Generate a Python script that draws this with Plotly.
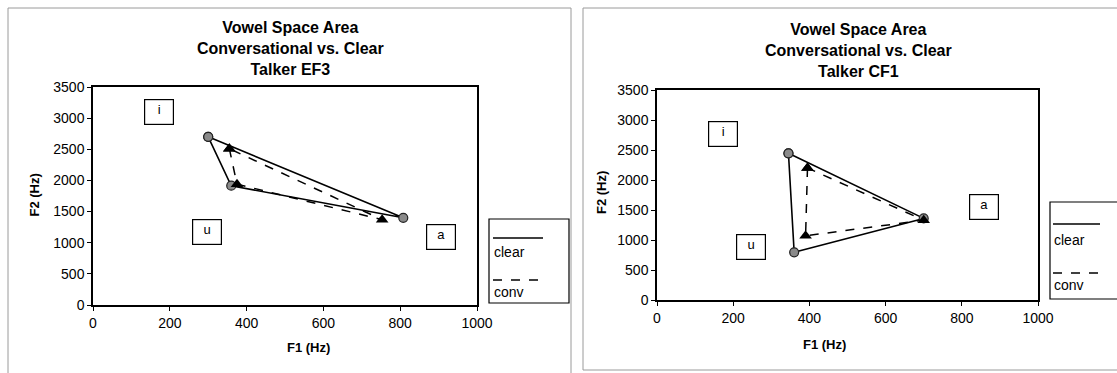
import plotly.graph_objects as go

W, H = 1117, 373

vowels = ["i", "u", "a"]
ef3_clear_f1 = [300, 360, 808]
ef3_clear_f2 = [2700, 1915, 1400]
ef3_conv_f1 = [355, 375, 753]
ef3_conv_f2 = [2510, 1940, 1370]
cf1_clear_f1 = [345, 360, 700]
cf1_clear_f2 = [2445, 795, 1360]
cf1_conv_f1 = [395, 390, 700]
cf1_conv_f2 = [2200, 1070, 1330]

ef3_label_f1 = [171, 298, 907]
ef3_label_f2 = [3105, 1173, 1092]
cf1_label_f1 = [172, 247, 858]
cf1_label_f2 = [2772, 889, 1556]

x_ticks = [0, 200, 400, 600, 800, 1000]
y_ticks = [0, 500, 1000, 1500, 2000, 2500, 3000, 3500]
titles = ["Vowel Space Area<br>Conversational vs. Clear<br>Talker EF3",
          "Vowel Space Area<br>Conversational vs. Clear<br>Talker CF1"]

FONT = "Liberation Sans, Arial, sans-serif"

def px(x):
    return x / W

def py(y):
    return 1 - y / H

fig = go.Figure()

def closed(a):
    return list(a) + [a[0]]

panels = [
    ("x", "y", ef3_clear_f1, ef3_clear_f2, ef3_conv_f1, ef3_conv_f2),
    ("x2", "y2", cf1_clear_f1, cf1_clear_f2, cf1_conv_f1, cf1_conv_f2),
]
for xa, ya, cx, cy, vx, vy in panels:
    fig.add_trace(go.Scatter(x=closed(cx), y=closed(cy), xaxis=xa, yaxis=ya, mode="lines+markers",
                             name="clear", showlegend=False,
                             line=dict(color="black", width=1.6),
                             marker=dict(symbol="circle", size=9, color="#8a8a8a",
                                         line=dict(color="#222", width=1.2))))
    fig.add_trace(go.Scatter(x=closed(vx), y=closed(vy), xaxis=xa, yaxis=ya, mode="lines+markers",
                             name="conv", showlegend=False,
                             line=dict(color="black", width=1.5, dash="dash"),
                             marker=dict(symbol="triangle-up", size=11, color="black")))

axis_common = dict(range=[0, 1000], tickvals=x_ticks, showgrid=False, zeroline=False,
                   showline=True, mirror=True, linecolor="black", linewidth=1.5,
                   ticks="outside", ticklen=4, tickcolor="black", automargin=False,
                   tickfont=dict(family=FONT, size=14, color="black"))
yaxis_common = dict(range=[0, 3500], tickvals=y_ticks, showgrid=False, zeroline=False,
                    showline=True, mirror=True, linecolor="black", linewidth=1.5,
                    ticks="outside", ticklen=4, tickcolor="black", automargin=False,
                    tickfont=dict(family=FONT, size=14, color="black"))

fig.update_layout(
    width=W, height=H, margin=dict(l=0, r=0, t=0, b=0, pad=0),
    paper_bgcolor="white", plot_bgcolor="white",
    xaxis=dict(domain=[px(93), px(477)], anchor="y", **axis_common),
    yaxis=dict(domain=[py(305), py(87)], anchor="x", **yaxis_common),
    xaxis2=dict(domain=[px(657), px(1038)], anchor="y2", **axis_common),
    yaxis2=dict(domain=[py(300), py(90)], anchor="x2", **yaxis_common),
)

shapes = []
annotations = []

# outer panel borders
shapes.append(dict(type="rect", xref="paper", yref="paper", x0=px(8), x1=px(571), y0=py(380), y1=py(8),
                   line=dict(color="#9a9a9a", width=1)))
shapes.append(dict(type="rect", xref="paper", yref="paper", x0=px(583), x1=px(1125), y0=py(370), y1=py(8),
                   line=dict(color="#9a9a9a", width=1)))

# titles
for t, cx, cy in [(titles[0], 290, 49), (titles[1], 858, 51)]:
    annotations.append(dict(text="<b>" + t + "</b>", xref="paper", yref="paper", x=px(cx), y=py(cy),
                            showarrow=False, xanchor="center", yanchor="middle",
                            font=dict(family=FONT, size=16, color="black")))

# axis titles
for tx, ty in [(285, 357), (848, 354)]:
    annotations.append(dict(text="<b>F1 (Hz)</b>", xref="paper", yref="paper", x=px(tx), y=py(ty),
                            showarrow=False, font=dict(family=FONT, size=13, color="black")))
for tx, ty in [(24, 195), (601, 193)]:
    annotations.append(dict(text="<b>F2 (Hz)</b>", xref="paper", yref="paper", x=px(tx), y=py(ty),
                            showarrow=False, textangle=-90, font=dict(family=FONT, size=13, color="black")))

# vowel label boxes
for xr, yr, lx, ly in [("x", "y", ef3_label_f1, ef3_label_f2), ("x2", "y2", cf1_label_f1, cf1_label_f2)]:
    for v, a, b in zip(vowels, lx, ly):
        annotations.append(dict(text=v, xref=xr, yref=yr, x=a, y=b, showarrow=False,
                                width=24, height=20, borderpad=2, borderwidth=1.2, bordercolor="black",
                                bgcolor="white", valign="top",
                                font=dict(family=FONT, size=13, color="black")))

# legends
for bx0, bx1, by0, by1, lx0, lx1, ys, yc, yd, yv in [
    (489, 569, 219, 303, 493, 543, 238, 252, 280, 292),
    (1050, 1125, 202, 299, 1053, 1100, 224, 240, 273, 285),
]:
    shapes.append(dict(type="rect", xref="paper", yref="paper", x0=px(bx0), x1=px(bx1), y0=py(by1), y1=py(by0),
                       line=dict(color="black", width=1.2), fillcolor="white"))
    shapes.append(dict(type="line", xref="paper", yref="paper", x0=px(lx0), x1=px(lx1), y0=py(ys), y1=py(ys),
                       line=dict(color="black", width=1.5)))
    shapes.append(dict(type="line", xref="paper", yref="paper", x0=px(lx0), x1=px(lx1 + 3), y0=py(yd), y1=py(yd),
                       line=dict(color="black", width=1.5, dash="dash")))
    annotations.append(dict(text="clear", xref="paper", yref="paper", x=px(lx0 - 1), y=py(yc), showarrow=False,
                            xanchor="left", yanchor="middle", font=dict(family=FONT, size=14, color="black")))
    annotations.append(dict(text="conv", xref="paper", yref="paper", x=px(lx0 - 1), y=py(yv), showarrow=False,
                            xanchor="left", yanchor="middle", font=dict(family=FONT, size=14, color="black")))

fig.update_layout(shapes=shapes, annotations=annotations)
fig.write_html("out.html", config={"displayModeBar": False},
               post_script="document.body.style.margin='0';document.body.style.padding='0';document.body.style.overflow='hidden';")
